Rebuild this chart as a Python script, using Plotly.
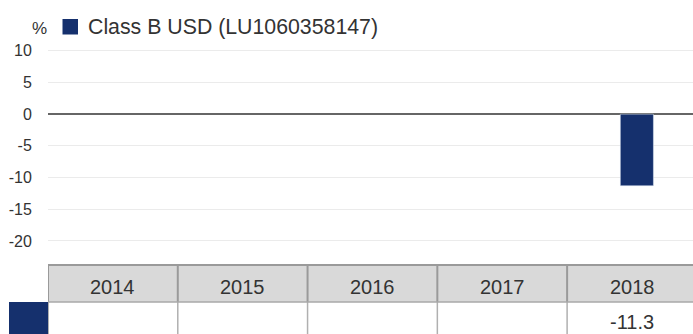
import plotly.graph_objects as go

categories = ["2014", "2015", "2016", "2017", "2018"]
values = [None, None, None, None, -11.3]
series_name = "Class B USD (LU1060358147)"
y_ticks = [10, 5, 0, -5, -10, -15, -20]

W, H = 693, 334
BLUE = "#15306d"
TXT = "#333333"
FONT = "Liberation Sans, Arial, sans-serif"

def px_x(p):
    return p / W

def px_y(p):
    return 1 - p / H

fig = go.Figure()
fig.add_trace(go.Bar(
    x=list(range(len(categories))), y=values, marker_color=BLUE,
    width=0.255, offset=-0.09, showlegend=False, hoverinfo="skip",
))

shapes = []
annotations = []

hdr_top, hdr_bot, row_bot = 265, 302, 360
for i, cat in enumerate(categories):
    shapes.append(dict(type="rect", xref="x", yref="paper",
                       x0=i - 0.5, x1=i + 0.5, y0=px_y(hdr_bot), y1=px_y(hdr_top),
                       fillcolor="#d9d9d9", line=dict(width=0), layer="below"))
    annotations.append(dict(xref="x", yref="paper", x=i, y=px_y(287),
                            text=cat, showarrow=False, yanchor="middle",
                            font=dict(size=20, color=TXT, family=FONT)))
    v = values[i]
    if v is not None:
        annotations.append(dict(xref="x", yref="paper", x=i, y=px_y(334),
                                text=f"{v:.1f}", showarrow=False, yanchor="bottom",
                                borderpad=0,
                                font=dict(size=20, color=TXT, family=FONT)))
for i in range(len(categories) + 1):
    xb = i - 0.5
    shapes.append(dict(type="line", xref="x", yref="paper", x0=xb, x1=xb,
                       y0=px_y(hdr_bot), y1=px_y(hdr_top),
                       line=dict(color="#9a9a9a", width=2)))
    shapes.append(dict(type="line", xref="x", yref="paper", x0=xb, x1=xb,
                       y0=px_y(row_bot), y1=px_y(hdr_bot),
                       line=dict(color="#b0b0b0", width=2 if i == 0 else 1.5)))
shapes.append(dict(type="line", xref="x", yref="paper", x0=-0.5, x1=len(categories),
                   y0=px_y(hdr_top), y1=px_y(hdr_top), line=dict(color="#9a9a9a", width=2)))
shapes.append(dict(type="line", xref="x", yref="paper", x0=-0.5, x1=len(categories),
                   y0=px_y(hdr_bot), y1=px_y(hdr_bot), line=dict(color="#a8a8a8", width=1.5)))
shapes.append(dict(type="rect", xref="paper", yref="paper",
                   x0=px_x(9), x1=px_x(48), y0=px_y(345), y1=px_y(302),
                   fillcolor=BLUE, line=dict(width=0)))
shapes.append(dict(type="rect", xref="paper", yref="paper",
                   x0=px_x(62.5), x1=px_x(78), y0=px_y(34.5), y1=px_y(19),
                   fillcolor=BLUE, line=dict(width=0)))
annotations.append(dict(xref="paper", yref="paper", x=px_x(86), y=px_y(27),
                        xanchor="left", yanchor="middle", text=series_name,
                        showarrow=False, font=dict(size=21.3, color=TXT, family=FONT)))
annotations.append(dict(xref="paper", yref="paper", x=px_x(49), y=px_y(28),
                        xanchor="right", yanchor="middle", text="%",
                        showarrow=False, font=dict(size=17, color=TXT, family=FONT)))

fig.update_layout(
    width=W, height=H, margin=dict(l=0, r=0, t=0, b=0, autoexpand=False),
    paper_bgcolor="white", plot_bgcolor="white",
    showlegend=False, shapes=shapes, annotations=annotations,
    xaxis=dict(domain=[px_x(48), 1], range=[-0.5, 4.47], showgrid=False,
               zeroline=False, showticklabels=False, ticks="", automargin=False),
    yaxis=dict(domain=[px_y(265), px_y(40)], range=[-23.8, 11.7],
               tickvals=y_ticks, ticktext=[str(t) for t in y_ticks],
               showgrid=True, gridcolor="#ebebeb", gridwidth=1,
               zeroline=True, zerolinecolor="#666666", zerolinewidth=1.5,
               ticks="outside", ticklen=12, tickcolor="rgba(0,0,0,0)",
               automargin=False,
               tickfont=dict(size=16, color=TXT, family=FONT)),
)

fig.write_html("out.html", config={"displayModeBar": False},
               post_script="document.body.style.margin='0';document.body.style.overflow='hidden';")
